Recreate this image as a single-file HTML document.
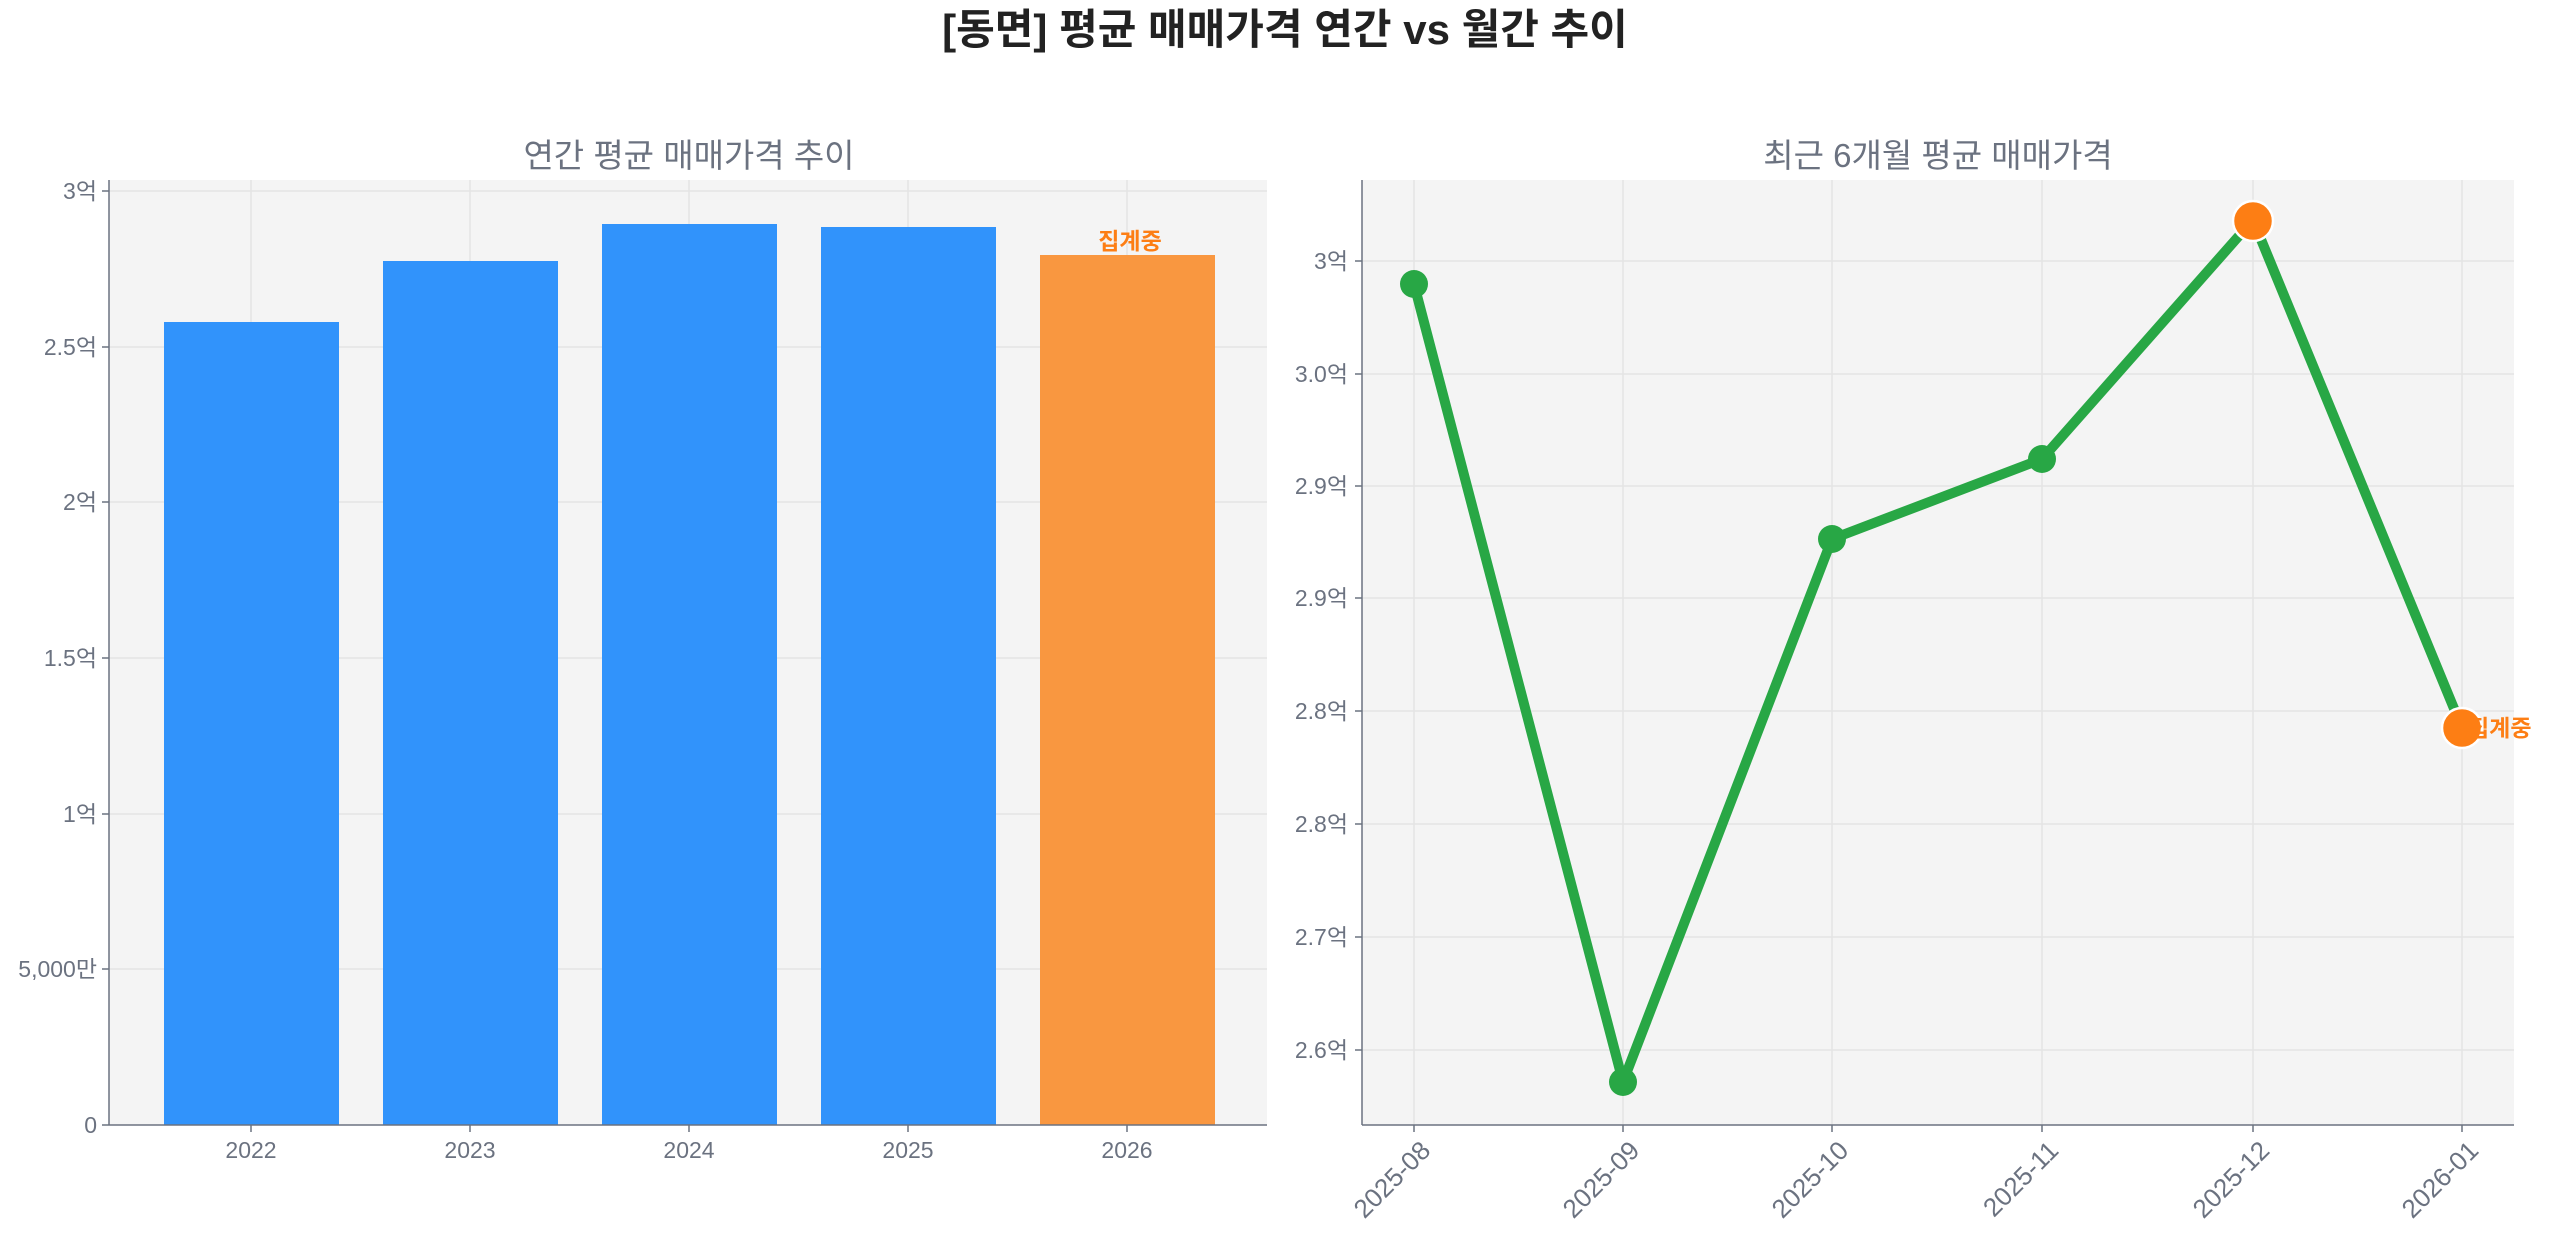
<!DOCTYPE html>
<html><head><meta charset="utf-8"><style>
html,body{margin:0;padding:0;background:#fff}
svg text{font-family:"Liberation Sans","Noto Sans CJK KR",sans-serif}
</style></head><body>
<svg width="2560" height="1234" viewBox="0 0 2560 1234" xmlns="http://www.w3.org/2000/svg">
<text x="1285" y="44" text-anchor="middle" font-size="42" font-weight="bold" fill="#222">[동면] 평균 매매가격 연간 vs 월간 추이</text>

<!-- Left -->
<text x="689" y="167" text-anchor="middle" font-size="33" fill="#6b7280">연간 평균 매매가격 추이</text>
<rect x="109" y="180" width="1158" height="945" fill="#f4f4f4"/>
<g stroke="#e4e4e4" stroke-width="1.5">
<line x1="109" x2="1267" y1="191" y2="191"/><line x1="109" x2="1267" y1="347" y2="347"/>
<line x1="109" x2="1267" y1="502" y2="502"/><line x1="109" x2="1267" y1="658" y2="658"/>
<line x1="109" x2="1267" y1="814" y2="814"/><line x1="109" x2="1267" y1="969" y2="969"/>
<line x1="251" x2="251" y1="180" y2="1125"/><line x1="470" x2="470" y1="180" y2="1125"/>
<line x1="689" x2="689" y1="180" y2="1125"/><line x1="908" x2="908" y1="180" y2="1125"/>
<line x1="1127" x2="1127" y1="180" y2="1125"/>
</g>
<g fill="#3193fb">
<rect x="164" y="322" width="175" height="803"/>
<rect x="383" y="261" width="175" height="864"/>
<rect x="602" y="224" width="175" height="901"/>
<rect x="821" y="227" width="175" height="898"/>
</g>
<rect x="1040" y="255" width="175" height="870" fill="#f99740"/>
<text x="1130" y="249" text-anchor="middle" font-size="23" font-weight="bold" fill="#fd7e14">집계중</text>
<g stroke="#6b7280" stroke-width="1.5">
<line x1="109" x2="109" y1="180" y2="1125"/><line x1="109" x2="1267" y1="1125" y2="1125"/>
<line x1="102" x2="109" y1="191" y2="191"/><line x1="102" x2="109" y1="347" y2="347"/>
<line x1="102" x2="109" y1="502" y2="502"/><line x1="102" x2="109" y1="658" y2="658"/>
<line x1="102" x2="109" y1="814" y2="814"/><line x1="102" x2="109" y1="969" y2="969"/>
<line x1="102" x2="109" y1="1125" y2="1125"/>
<line x1="251" x2="251" y1="1125" y2="1132"/><line x1="470" x2="470" y1="1125" y2="1132"/>
<line x1="689" x2="689" y1="1125" y2="1132"/><line x1="908" x2="908" y1="1125" y2="1132"/>
<line x1="1127" x2="1127" y1="1125" y2="1132"/>
</g>
<g font-size="23" fill="#6b7280" text-anchor="end">
<text x="97" y="199">3억</text><text x="97" y="355">2.5억</text><text x="97" y="510">2억</text>
<text x="97" y="666">1.5억</text><text x="97" y="822">1억</text><text x="97" y="977">5,000만</text>
<text x="97" y="1133">0</text>
</g>
<g font-size="23" fill="#6b7280" text-anchor="middle">
<text x="251" y="1158">2022</text><text x="470" y="1158">2023</text><text x="689" y="1158">2024</text>
<text x="908" y="1158">2025</text><text x="1127" y="1158">2026</text>
</g>

<!-- Right -->
<text x="1938" y="167" text-anchor="middle" font-size="33" fill="#6b7280">최근 6개월 평균 매매가격</text>
<rect x="1362" y="180" width="1152" height="945" fill="#f4f4f4"/>
<g stroke="#e4e4e4" stroke-width="1.5">
<line x1="1362" x2="2514" y1="261" y2="261"/><line x1="1362" x2="2514" y1="374" y2="374"/>
<line x1="1362" x2="2514" y1="486" y2="486"/><line x1="1362" x2="2514" y1="598" y2="598"/>
<line x1="1362" x2="2514" y1="711" y2="711"/><line x1="1362" x2="2514" y1="824" y2="824"/>
<line x1="1362" x2="2514" y1="937" y2="937"/><line x1="1362" x2="2514" y1="1050" y2="1050"/>
<line x1="1414" x2="1414" y1="180" y2="1125"/><line x1="1623" x2="1623" y1="180" y2="1125"/>
<line x1="1832" x2="1832" y1="180" y2="1125"/><line x1="2042" x2="2042" y1="180" y2="1125"/>
<line x1="2253" x2="2253" y1="180" y2="1125"/><line x1="2462" x2="2462" y1="180" y2="1125"/>
</g>
<polyline points="1414,284 1623,1082 1832,539 2042,459 2253,220 2462,728" fill="none" stroke="#28a745" stroke-width="10" stroke-linejoin="round"/>
<g fill="#28a745">
<circle cx="1414" cy="284" r="14"/><circle cx="1623" cy="1082" r="14"/>
<circle cx="1832" cy="539" r="14"/><circle cx="2042" cy="459" r="14"/>
</g>
<g fill="#fd7e14" stroke="#fff" stroke-width="2.5">
<circle cx="2253" cy="221" r="20"/><circle cx="2462" cy="728" r="20"/>
</g>
<text x="2468" y="736" font-size="23" font-weight="bold" fill="#fd7e14">집계중</text>
<g stroke="#6b7280" stroke-width="1.5">
<line x1="1362" x2="1362" y1="180" y2="1125"/><line x1="1362" x2="2514" y1="1125" y2="1125"/>
<line x1="1355" x2="1362" y1="261" y2="261"/><line x1="1355" x2="1362" y1="374" y2="374"/>
<line x1="1355" x2="1362" y1="486" y2="486"/><line x1="1355" x2="1362" y1="598" y2="598"/>
<line x1="1355" x2="1362" y1="711" y2="711"/><line x1="1355" x2="1362" y1="824" y2="824"/>
<line x1="1355" x2="1362" y1="937" y2="937"/><line x1="1355" x2="1362" y1="1050" y2="1050"/>
<line x1="1414" x2="1414" y1="1125" y2="1132"/><line x1="1623" x2="1623" y1="1125" y2="1132"/>
<line x1="1832" x2="1832" y1="1125" y2="1132"/><line x1="2042" x2="2042" y1="1125" y2="1132"/>
<line x1="2253" x2="2253" y1="1125" y2="1132"/><line x1="2462" x2="2462" y1="1125" y2="1132"/>
</g>
<g font-size="23" fill="#6b7280" text-anchor="end">
<text x="1348" y="269">3억</text><text x="1348" y="382">3.0억</text><text x="1348" y="494">2.9억</text>
<text x="1348" y="606">2.9억</text><text x="1348" y="719">2.8억</text><text x="1348" y="832">2.8억</text>
<text x="1348" y="945">2.7억</text><text x="1348" y="1058">2.6억</text>
</g>
<g font-size="26" fill="#6b7280" text-anchor="end">
<text transform="translate(1432,1152) rotate(-45)">2025-08</text>
<text transform="translate(1641,1152) rotate(-45)">2025-09</text>
<text transform="translate(1850,1152) rotate(-45)">2025-10</text>
<text transform="translate(2060,1152) rotate(-45)">2025-11</text>
<text transform="translate(2271,1152) rotate(-45)">2025-12</text>
<text transform="translate(2480,1152) rotate(-45)">2026-01</text>
</g>
</svg>
</body></html>
